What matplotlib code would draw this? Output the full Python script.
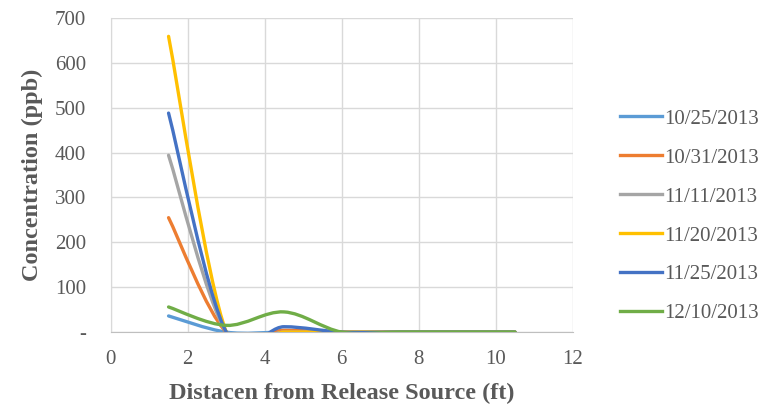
import matplotlib
matplotlib.use("Agg")
import matplotlib.pyplot as plt
from matplotlib.path import Path
from matplotlib.patches import PathPatch
from matplotlib.lines import Line2D
import numpy as np

plt.rcParams["font.family"] = ["Liberation Serif", "DejaVu Serif"]

# sampling distances (ft) and measured concentrations (ppb)
distance = [1.5, 3.0, 4.5, 6.0, 7.5, 9.0, 10.5]
dates = ["10/25/2013", "10/31/2013", "11/11/2013",
         "11/20/2013", "11/25/2013", "12/10/2013"]
conc_1025 = [36, 0, 0, 0, 0, 0, 0]
conc_1031 = [255, 0, 4, 0, 0, 0, 0]
conc_1111 = [394, 0, 0, 0, 0, 0, 0]
conc_1120 = [659, 0, 0, 0, 0, 0, 0]
conc_1125 = [488, 0, 12, 0, 0, 0, 0]
conc_1210 = [56, 15, 45, 0, 0, 0, 0]
series = [conc_1025, conc_1031, conc_1111, conc_1120, conc_1125, conc_1210]
colors = ["#5b9bd5", "#ed7d31", "#a5a5a5", "#ffc000", "#4472c4", "#70ad47"]

TICK_GRAY = "#595959"
GRID = "#d9d9d9"


def smooth_path(xs, ys):
    """Cubic Bezier path through the points (spreadsheet-style smoothing)."""
    p = np.column_stack([xs, ys]).astype(float)
    ext = np.vstack([p[0], p, p[-1]])
    verts = [tuple(p[0])]
    codes = [Path.MOVETO]
    for i in range(1, len(ext) - 2):
        p0, p1, p2, p3 = ext[i - 1], ext[i], ext[i + 1], ext[i + 2]
        c1 = p1 + (p2 - p0) / 6.0
        c2 = p2 - (p3 - p1) / 6.0
        verts += [tuple(c1), tuple(c2), tuple(p2)]
        codes += [Path.CURVE4] * 3
    return Path(verts, codes)


fig = plt.figure(figsize=(7.75, 4.08), dpi=100, facecolor="white")
ax = fig.add_axes([0.143, 0.186, 0.596, 0.770])

for vals, col in zip(series, colors):
    patch = PathPatch(smooth_path(distance, vals), facecolor="none",
                      edgecolor=col, linewidth=2.4, capstyle="round",
                      joinstyle="round", zorder=3)
    ax.add_patch(patch)

ax.set_xlim(0, 12)
ax.set_ylim(0, 700)
ax.set_xticks(range(0, 13, 2))
ax.set_yticks(range(0, 701, 100))
ax.set_yticklabels(["-"] + [str(v) for v in range(100, 701, 100)])
ax.grid(True, color=GRID, linewidth=1.0, zorder=0)
ax.set_axisbelow(True)
for side in ["top", "right"]:
    ax.spines[side].set_visible(False)
ax.spines["left"].set_color(GRID)
ax.spines["bottom"].set_color("#bfbfbf")
ax.tick_params(length=0, labelsize=15, colors=TICK_GRAY)
ax.tick_params(axis="y", pad=18)
ax.tick_params(axis="x", pad=13)

ax.set_xlabel("Distacen from Release Source (ft)", fontsize=17.5,
              fontweight="bold", color=TICK_GRAY, labelpad=10)
ax.set_ylabel("Concentration (ppb)", fontsize=17.5, fontweight="bold",
              color=TICK_GRAY, labelpad=8)

handles = [Line2D([], [], color=c, linewidth=2.4) for c in colors]
leg = fig.legend(handles, dates, loc="center left",
                 bbox_to_anchor=(0.80, 0.47), frameon=False, fontsize=15,
                 handlelength=2.0, handletextpad=0.12, labelspacing=0.93,
                 labelcolor=TICK_GRAY, borderaxespad=0, borderpad=0)

fig.savefig("out.png", dpi=100, facecolor="white")
